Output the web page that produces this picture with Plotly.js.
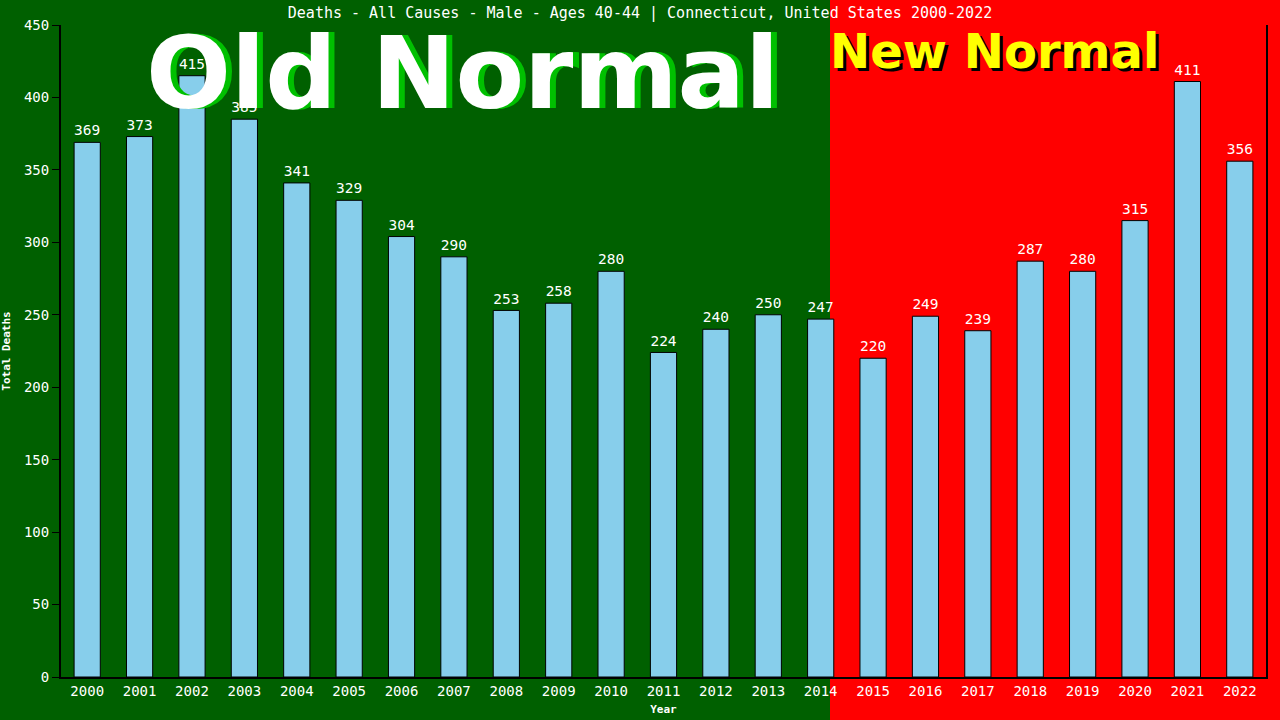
<!DOCTYPE html>
<html>
<head>
<meta charset="utf-8">
<script src="https://cdn.plot.ly/plotly-3.0.1.min.js"></script>
<style>html,body{margin:0;padding:0;background:#006000;}#chart{width:1280px;height:720px;}</style>
</head>
<body>
<div id="chart"></div>
<script>
const years = ["2000","2001","2002","2003","2004","2005","2006","2007","2008","2009","2010","2011","2012","2013","2014","2015","2016","2017","2018","2019","2020","2021","2022"];
const deaths = [369,373,415,385,341,329,304,290,253,258,280,224,240,250,247,220,249,239,287,280,315,411,356];
const chartTitle = "Deaths - All Causes - Male - Ages 40-44 | Connecticut, United States 2000-2022";
const yTicks = [0,50,100,150,200,250,300,350,400,450];

const mono = "DejaVu Sans Mono, monospace";
const trace = {
  type: "bar",
  x: years,
  y: deaths,
  marker: {color: "#87CEEB", line: {color: "#000000", width: 1}},
  width: 0.5,
  text: deaths.map(String),
  textposition: "outside",
  textfont: {family: mono, size: 15, color: "#ffffff"},
  cliponaxis: false,
  hoverinfo: "skip"
};

const layout = {
  width: 1280, height: 720,
  paper_bgcolor: "#006000",
  plot_bgcolor: "rgba(0,0,0,0)",
  margin: {l: 61, r: 14, t: 25, b: 43, autoexpand: false},
  showlegend: false,
  bargap: 0.5,
  title: {text: chartTitle, x: 0.5, xanchor: "center", y: 1 - 13/720, yanchor: "middle",
          font: {family: mono, size: 15, color: "#ffffff"}},
  xaxis: {
    type: "category",
    showgrid: false, zeroline: false,
    showline: true, linecolor: "#000000", linewidth: 2,
    ticks: "", tickfont: {family: mono, size: 14, color: "#ffffff"},
    title: {text: "<b>Year</b>", font: {family: mono, size: 11, color: "#ffffff"}, standoff: 8},
    automargin: false
  },
  yaxis: {
    range: [0, 450], tickvals: yTicks,
    showgrid: false, zeroline: false,
    showline: true, linecolor: "#000000", linewidth: 2, mirror: true,
    ticks: "outside", ticklen: 7, tickcolor: "#000000",
    tickfont: {family: mono, size: 14, color: "#ffffff"},
    title: {text: "<b>Total Deaths</b>", font: {family: mono, size: 11, color: "#ffffff"}, standoff: 12},
    automargin: false
  },
  shapes: [
    {type: "rect", xref: "paper", yref: "paper", layer: "below",
     x0: (830-61)/1205, x1: (1290-61)/1205, y0: (677-730)/652, y1: (677+10)/652,
     fillcolor: "#ff0000", line: {width: 0}}
  ],
  annotations: [
    {xref: "paper", yref: "paper", x: (468-61)/1205, y: (677-73)/652, xanchor: "center", yanchor: "middle",
     text: "<b>Old Normal</b>", showarrow: false,
     font: {family: "DejaVu Sans, Verdana, sans-serif", size: 100, color: "#00c000"}},
    {xref: "paper", yref: "paper", x: (462-61)/1205, y: (677-73)/652, xanchor: "center", yanchor: "middle",
     text: "<b>Old Normal</b>", showarrow: false,
     font: {family: "DejaVu Sans, Verdana, sans-serif", size: 100, color: "#ffffff"}},
    {xref: "paper", yref: "paper", x: (997-61)/1205, y: (677-54)/652, xanchor: "center", yanchor: "middle",
     text: "<b>New Normal</b>", showarrow: false,
     font: {family: "DejaVu Sans, Verdana, sans-serif", size: 48, color: "#000000"}},
    {xref: "paper", yref: "paper", x: (994-61)/1205, y: (677-51)/652, xanchor: "center", yanchor: "middle",
     text: "<b>New Normal</b>", showarrow: false,
     font: {family: "DejaVu Sans, Verdana, sans-serif", size: 48, color: "#ffff00"}}
  ]
};

Plotly.newPlot("chart", [trace], layout, {staticPlot: true, displayModeBar: false});
</script>
</body>
</html>
